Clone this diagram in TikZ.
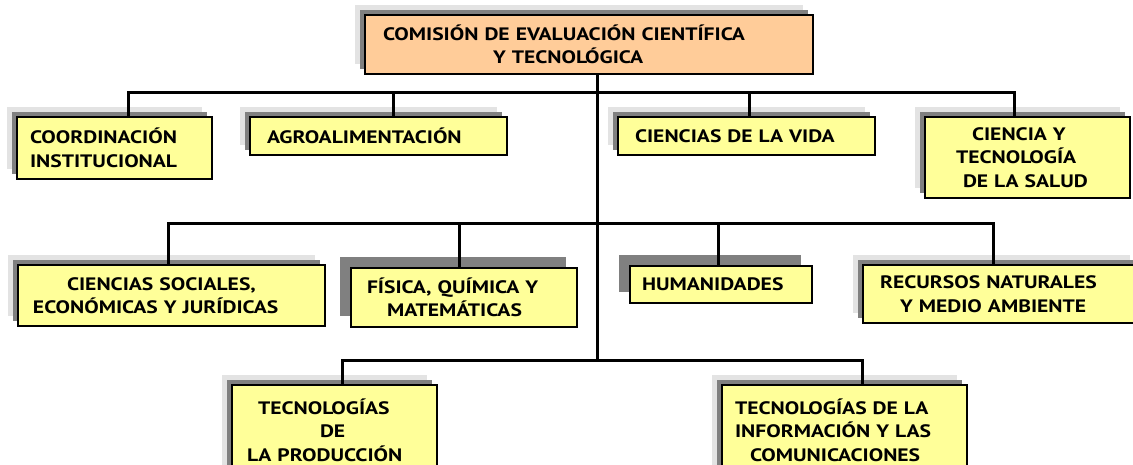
\documentclass[tikz,border=0pt]{standalone}
\usepackage{fontspec}
\setmainfont{PT Sans}[FakeStretch=1.2]
\definecolor{boxyellow}{HTML}{FFFF99}
\definecolor{boxorange}{HTML}{FFCC99}
\definecolor{shlightc}{HTML}{E3E3E3}
\definecolor{shdarkc}{HTML}{808080}
\tikzset{
  box/.style={draw=black, line width=1.6pt, inner sep=0pt, outer sep=0pt, align=left,
    font=\bfseries\fontsize{18}{23.5}\selectfont},
  shlight/.style={fill=shlightc},
  shdark/.style={fill=shdarkc},
  conn/.style={draw=black, line width=3pt}
}
\newcommand\ubox[8]{%
  \ifnum#7=2
    \fill[shlight] (#2-10,#3-10) rectangle (#4-10,#5-10);
    \fill[shdark] (#2-5,#3-5) rectangle (#4-5,#5-5);
  \else
    \fill[shdark] (#2-11,#3-11) rectangle (#4-11,#5-11);
  \fi
  \pgfmathsetmacro\bw{#4-#2}%
  \pgfmathsetmacro\bh{#5-#3}%
  \node[box, fill=#6, minimum width=\bw pt, minimum height=\bh pt, text width=\bw pt]
    (#1) at ({(#2+#4)/2},{(#3+#5)/2}) {#8};
}
\begin{document}
\begin{tikzpicture}[x=1pt,y=-1pt]
\useasboundingbox (0,0) rectangle (1133,465);
\clip (0,0) rectangle (1133,465);
\fill[white] (0,0) rectangle (1133,465);
\coordinate (j1) at (597,93);
\coordinate (j2) at (597,224);
\coordinate (j3) at (597,360);
\ubox{top}{365}{15}{813}{74}{boxorange}{2}{\hspace*{18pt}COMISIÓN DE EVALUACIÓN CIENTÍFICA\\\hspace*{128pt}Y TECNOLÓGICA}
\ubox{coord}{17}{117}{212}{179}{boxyellow}{2}{\hspace*{13pt}COORDINACIÓN\\\hspace*{13pt}INSTITUCIONAL}
\ubox{agro}{250}{117}{507}{155}{boxyellow}{2}{\hspace*{17pt}AGROALIMENTACIÓN}
\ubox{vida}{618}{117}{875}{155}{boxyellow}{2}{\hspace*{17pt}CIENCIAS DE LA VIDA}
\ubox{salud}{925}{117}{1130}{198}{boxyellow}{2}{\hspace*{47pt}CIENCIA Y\\\hspace*{31pt}TECNOLOGÍA\\\hspace*{38pt}DE LA SALUD}
\ubox{soc}{18}{265}{325}{326}{boxyellow}{2}{\hspace*{49pt}CIENCIAS SOCIALES,\\\hspace*{15pt}ECONÓMICAS Y JURÍDICAS}
\ubox{fis}{351}{268}{577}{327}{boxyellow}{1}{\hspace*{16pt}FÍSICA, QUÍMICA Y\\\hspace*{36pt}MATEMÁTICAS}
\ubox{hum}{630}{266}{812}{303}{boxyellow}{1}{\hspace*{12pt}HUMANIDADES}
\ubox{rec}{863}{265}{1140}{323}{boxyellow}{2}{\hspace*{17pt}RECURSOS NATURALES\\\hspace*{37pt}Y MEDIO AMBIENTE}
\ubox{prod}{232}{385}{437}{475}{boxyellow}{2}{\hspace*{26pt}TECNOLOGÍAS\\\hspace*{88pt}DE\\\hspace*{15pt}LA PRODUCCIÓN}
\ubox{tic}{722}{385}{967}{475}{boxyellow}{2}{\hspace*{13pt}TECNOLOGÍAS DE LA\\\hspace*{13pt}INFORMACIÓN Y LAS\\\hspace*{28pt}COMUNICACIONES}
% connectors
\draw[conn] (top.south -| j1) -- (j3);
\draw[conn] ([xshift=111pt]coord.north west) |- (j1);
\draw[conn] ([xshift=143pt]agro.north west) |- (j1);
\draw[conn] ([xshift=131pt]vida.north west) |- (j1);
\draw[conn] ([xshift=89pt]salud.north west) |- (j1);
\draw[conn] ([xshift=150pt]soc.north west) |- (j2);
\draw[conn] ([xshift=108pt]fis.north west) |- (j2);
\draw[conn] ([xshift=88pt]hum.north west) |- (j2);
\draw[conn] ([xshift=130pt]rec.north west) |- (j2);
\draw[conn] ([xshift=110pt]prod.north west) |- (j3);
\draw[conn] ([xshift=140pt]tic.north west) |- (j3);
\end{tikzpicture}
\end{document}
